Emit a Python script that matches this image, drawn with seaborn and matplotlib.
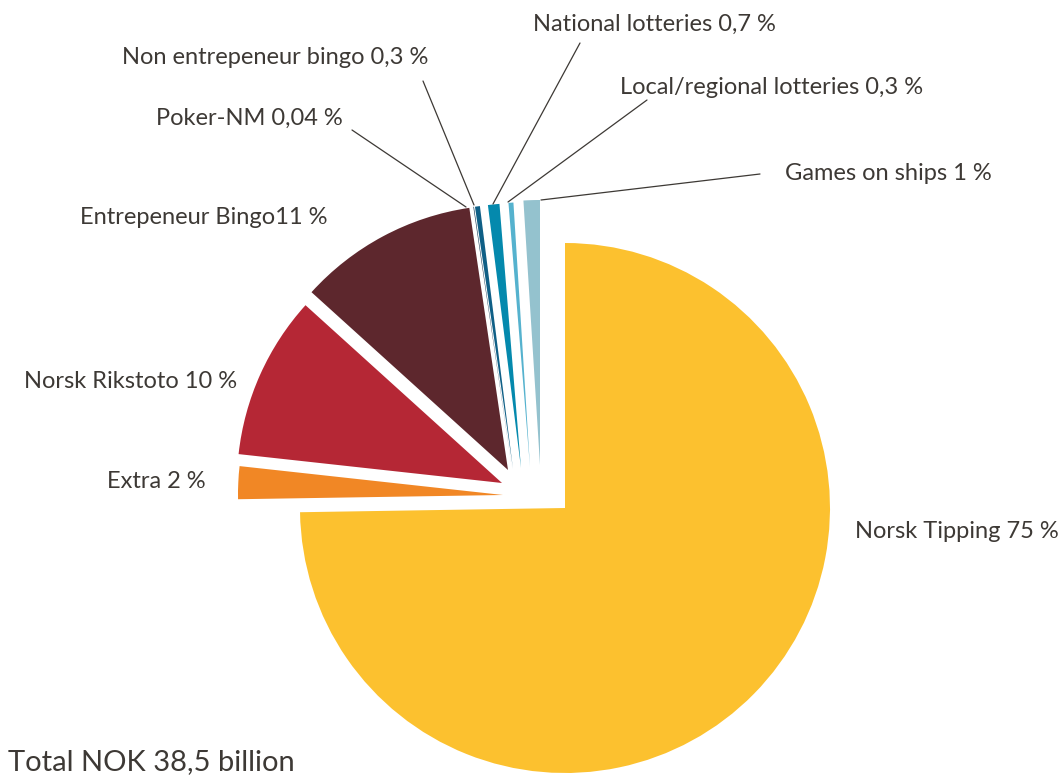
import matplotlib
matplotlib.use("Agg")
from matplotlib import pyplot as plt
import seaborn as sns

# share of the gaming market, per cent
games = ["Norsk Tipping", "Extra", "Norsk Rikstoto", "Entrepeneur Bingo",
         "Poker-NM", "Non entrepeneur bingo", "National lotteries",
         "Local/regional lotteries", "Games on ships"]
shares = [75, 2, 10, 11, 0.04, 0.3, 0.7, 0.3, 1]
labels = ["Norsk Tipping 75 %", "Extra 2 %", "Norsk Rikstoto 10 %",
          "Entrepeneur Bingo11 %", "Poker-NM 0,04 %",
          "Non entrepeneur bingo 0,3 %", "National lotteries 0,7 %",
          "Local/regional lotteries 0,3 %", "Games on ships 1 %"]
colors = ["#FCC12F", "#F18725", "#B52735", "#5D272D", "#1B3F5A",
          "#0F5F86", "#0489AD", "#55B2CE", "#94C2CE"]
total_label = "Total NOK 38,5 billion"

W, H = 1064, 781
TXT = "#3d3935"

sns.set_theme(style="white")
plt.rcParams["font.family"] = ["Lato", "DejaVu Sans"]

fig = plt.figure(figsize=(W / 100, H / 100), dpi=100)
ax = fig.add_axes([0, 0, 1, 1])

cx, cy, r = 565, H - 508, 265
wedges, _ = ax.pie(shares, colors=colors, startangle=90, counterclock=False,
                   radius=r, center=(cx, cy), wedgeprops=dict(linewidth=0))

# every piece except the big one is pulled out up-left (pixels: dx, dy up)
shifts = [(0, 0), (-62, 13), (-63, 25), (-57, 38), (-53, 39),
          (-52, 39), (-44, 40), (-35, 41), (-25, 43)]
for w, (dx, dy) in zip(wedges, shifts):
    w.set_center((cx + dx, cy + dy))

ax.set_xlim(0, W)
ax.set_ylim(0, H)
ax.set_aspect("auto")
ax.axis("off")

# label placement in pixel coords from the top-left: x, y, alignment
label_pos = [(855, 531, "left"), (206, 482, "right"), (237, 382, "right"),
             (327, 217, "right"), (343, 118, "right"), (428, 57, "right"),
             (533, 24, "left"), (620, 87, "left"), (785, 173, "left")]
for lab, (x, y, ha) in zip(labels, label_pos):
    ax.text(x, H - y, lab, ha=ha, va="center", fontsize=17, color=TXT)

# leader lines for the thin slices
leaders = {4: ((352, 130), (466, 207)), 5: ((423, 81), (474, 205)),
           6: ((580, 43), (493, 204)), 7: ((647, 100), (508, 202)),
           8: ((760, 174), (541, 200))}
for i, ((x0, y0), (x1, y1)) in leaders.items():
    ax.plot([x0, x1], [H - y0, H - y1], color=TXT, lw=0.9)

ax.text(8, H - 762, total_label, ha="left", va="center", fontsize=21,
        color=TXT)

fig.savefig("out.png", dpi=100)
